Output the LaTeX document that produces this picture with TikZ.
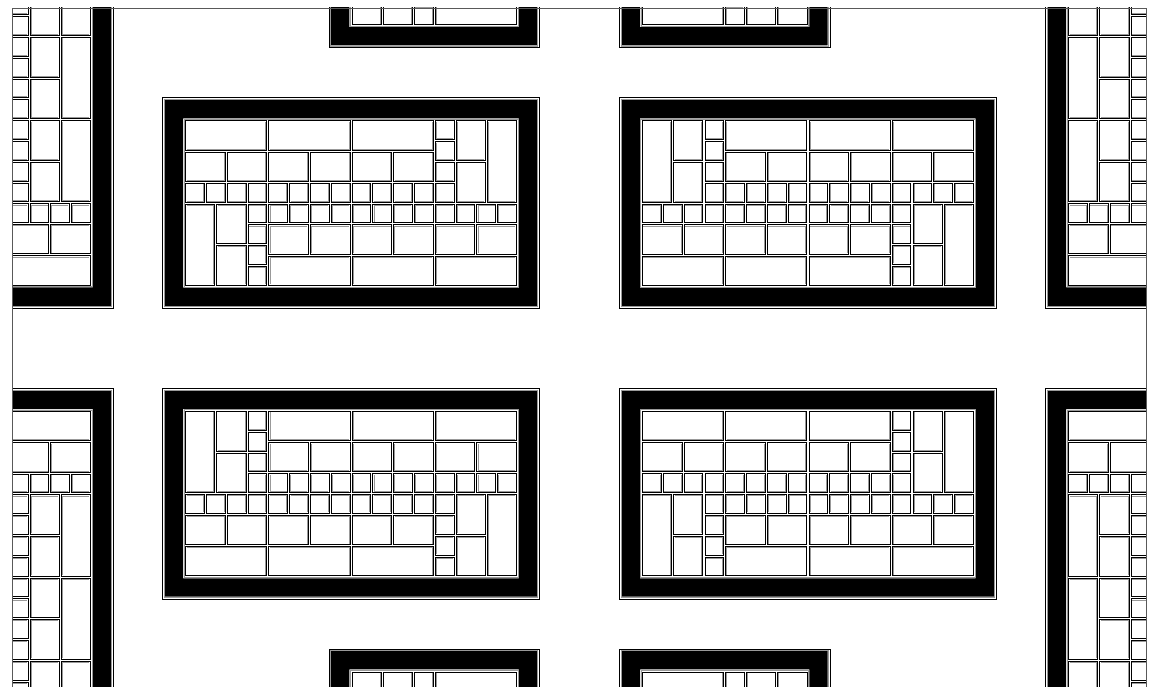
\documentclass[tikz,border=0pt]{standalone}
\usepackage{tikz}

\tikzset{
  keycap/.style={draw=black, fill=white, line width=0.7pt},
  keyrim/.style={draw=black!40, line width=0.6pt},
  caserim/.style={draw=black, line width=0.6pt},
  casebody/.style={fill=black, even odd rule},
  sheet/.style={draw=black!65, line width=0.8pt}
}

% one key, given by the corners of its cell
\newcommand{\kbkey}[4]{%
  \draw[keycap] (#1+0.05,#2+0.05) rectangle (#3-0.05,#4-0.05);
  \draw[keyrim] (#1+0.1,#2+0.1) -- (#3-0.1,#2+0.1) -- (#3-0.1,#4-0.1);
}

% 4x4 block: lower left corner, turn of the row of small keys
\newcommand{\kbblock}[3]{%
  \begin{scope}[shift={(#1+2,#2+2)}, rotate=#3]
    \foreach \i in {-2,...,1} {\kbkey{\i}{-2}{\i+1}{-1}}
    \kbkey{-2}{-1}{0}{0.5}
    \kbkey{0}{-1}{2}{0.5}
    \kbkey{-2}{0.5}{2}{2}
  \end{scope}}

% whole keyboard, centred on the origin, 16 x 8 units
\newcommand{\kbA}{%
  \draw[caserim] (-9.06,-5.06) rectangle (9.06,5.06);
  \fill[casebody] (-8.95,-4.95) rectangle (8.95,4.95) (-8.07,-4.07) rectangle (8.07,4.07);
  \draw[keyrim] (-8.98,-4.98) rectangle (8.98,4.98);
  \draw[keyrim] (-8.03,-4.03) rectangle (8.03,4.03);
  \foreach \x in {-8,-4,0} {\kbblock{\x}{0}{0}}
  \kbblock{4}{0}{-90}
  \kbblock{-8}{-4}{90}
  \foreach \x in {-4,0,4} {\kbblock{\x}{-4}{180}}
}

\begin{document}
\begin{tikzpicture}[x=1pt, y=1pt]
  \useasboundingbox (0,0) rectangle (1155,687);
  \fill[white] (0,0) rectangle (1155,687);
  \begin{scope}
    \clip (12.7,-20) rectangle (1146,679);
    % landscape keyboards
    \begin{scope}[shift={(351,484)}, scale=20.8] \kbA \end{scope}
    \begin{scope}[shift={(807.8,484)}, xscale=-1, scale=20.8] \kbA \end{scope}
    \begin{scope}[shift={(351,193.4)}, yscale=-1, scale=20.8] \kbA \end{scope}
    \begin{scope}[shift={(807.8,193.4)}, scale=-1, scale=20.8] \kbA \end{scope}
    % upright keyboards
    \begin{scope}[shift={(8.1,567.4)}, scale=20.8, rotate=90] \kbA \end{scope}
    \begin{scope}[shift={(1150.7,567.4)}, xscale=-1, scale=20.8, rotate=90] \kbA \end{scope}
    \begin{scope}[shift={(8.1,110)}, yscale=-1, scale=20.8, rotate=90] \kbA \end{scope}
    \begin{scope}[shift={(1150.7,110)}, scale=-1, scale=20.8, rotate=90] \kbA \end{scope}
    \begin{scope}[shift={(434.1,827.7)}, scale=20.8, rotate=90] \kbA \end{scope}
    \begin{scope}[shift={(724.7,827.7)}, xscale=-1, scale=20.8, rotate=90] \kbA \end{scope}
    \begin{scope}[shift={(434.1,-150.3)}, yscale=-1, scale=20.8, rotate=90] \kbA \end{scope}
    \begin{scope}[shift={(724.7,-150.3)}, scale=-1, scale=20.8, rotate=90] \kbA \end{scope}
  \end{scope}
  \draw[sheet] (12.7,-5) -- (12.7,679) -- (1146,679) -- (1146,-5);
\end{tikzpicture}
\end{document}
